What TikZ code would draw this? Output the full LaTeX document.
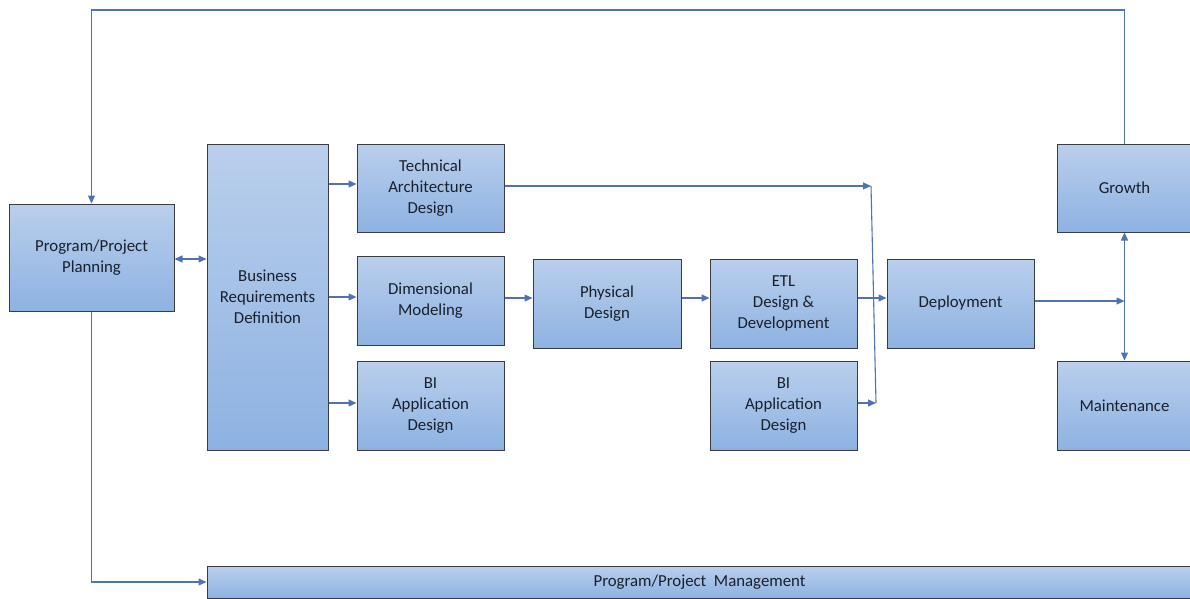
\documentclass[tikz,border=0pt]{standalone}
\usepackage{fontspec}
\setmainfont{Carlito}
\usetikzlibrary{arrows.meta}
\definecolor{boxtop}{RGB}{186,207,236}
\definecolor{boxbot}{RGB}{141,178,226}
\definecolor{boxline}{RGB}{60,60,64}
\definecolor{flow}{RGB}{79,114,181}
\definecolor{label}{RGB}{26,32,44}
\tikzset{
  phase/.style={draw=boxline, line width=1pt, top color=boxtop, bottom color=boxbot,
    rectangle, inner sep=0pt, align=center, text=label,
    font=\fontsize{16.8}{21}\selectfont},
  link/.style={draw=flow, line width=1.1pt, -{Triangle[length=8pt,width=7pt]}},
  biglink/.style={draw=flow, line width=1.1pt, {Triangle[length=8pt,width=7pt]}-{Triangle[length=8pt,width=7pt]}},
  plain/.style={draw=flow, line width=1.1pt}
}
\begin{document}
\begin{tikzpicture}[x=1pt,y=-1pt]
\useasboundingbox (0,0) rectangle (1190,599);
\clip (0,0) rectangle (1190,599);
\fill[white] (0,0) rectangle (1190,599);

% phases
\node[phase, minimum width=165, minimum height=107] (plan) at (91.5,257.5) {Program/Project\\Planning};
\node[phase, minimum width=121, minimum height=306] (brd) at (267.5,297) {Business\\Requirements\\Definition};
\node[phase, minimum width=147, minimum height=88] (tad) at (430.5,188) {Technical\\Architecture\\Design};
\node[phase, minimum width=147, minimum height=89] (dm) at (430.5,300.5) {Dimensional\\Modeling};
\node[phase, minimum width=147, minimum height=89] (bia) at (430.5,405.5) {BI\\Application\\Design};
\node[phase, minimum width=148, minimum height=89] (phys) at (607,303.5) {Physical\\Design};
\node[phase, minimum width=147, minimum height=89] (etl) at (783.5,303.5) {ETL\\Design \&\\Development};
\node[phase, minimum width=147, minimum height=89] (bib) at (783.5,405.5) {BI\\Application\\Design};
\node[phase, minimum width=147, minimum height=89] (dep) at (960.5,303.5) {Deployment};
\node[phase, minimum width=135, minimum height=88] (grow) at (1124.5,188) {Growth};
\node[phase, minimum width=135, minimum height=89] (maint) at (1124.5,405.5) {Maintenance};
\node[phase, minimum width=985, minimum height=32] (ppm) at (699.5,582) {Program/Project\ \ Management};

% junction points
\coordinate (row) at (0,298);
\coordinate (ja) at (871,186);
\coordinate (jb) at (876,403);
\coordinate (jc) at (1124.5,301);
\coordinate (top) at (1124.5,10);

% outer loop and management track
\draw[link] (grow.north) -- (top) -| (plan.north);
\draw[link] (plan.south) |- (ppm.west);

% planning and requirements
\draw[biglink] (plan.east |- 0,259) -- (brd.west |- 0,259);
\draw[link] (brd.east |- 0,184) -- (tad.west |- 0,184);
\draw[link] (brd.east |- 0,297) -- (dm.west |- 0,297);
\draw[link] (brd.east |- 0,403) -- (bia.west |- 0,403);

% main track
\draw[link] (dm.east |- row) -- (phys.west |- row);
\draw[link] (phys.east |- row) -- (etl.west |- row);
\draw[link] (etl.east |- row) -- (dep.west |- row);
\draw[link] (tad.east |- ja) -- (ja);
\draw[link] (bib.east |- jb) -- (jb);
\draw[plain] (ja) -- (jb);
\draw[link] (dep.east |- jc) -- (jc);
\draw[biglink] (grow.south) -- (maint.north);
\end{tikzpicture}
\end{document}
